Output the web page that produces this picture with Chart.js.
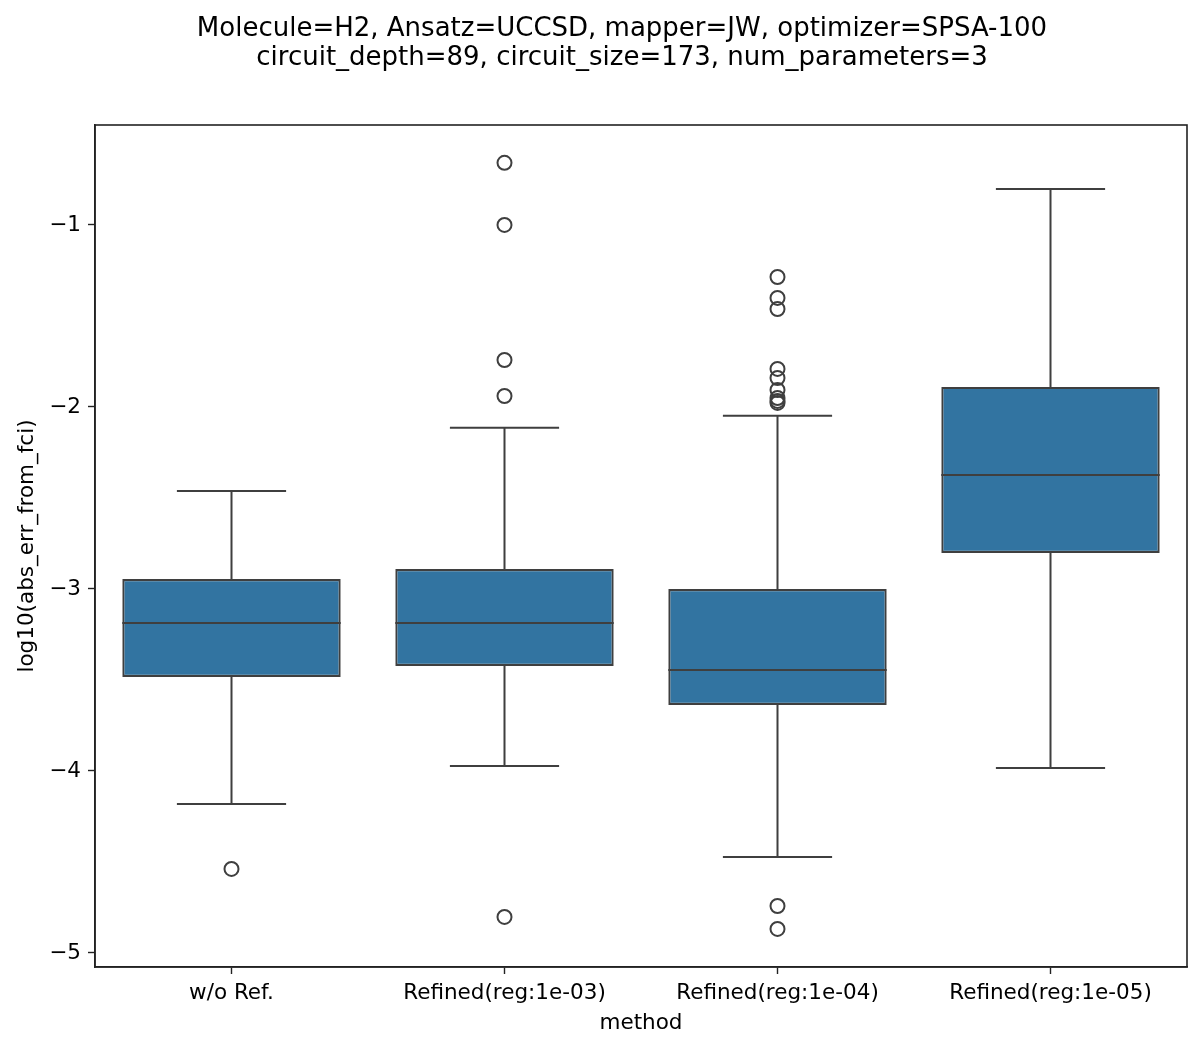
<!DOCTYPE html>
<html>
<head>
<meta charset="utf-8">
<script src="https://cdn.jsdelivr.net/npm/chart.js@4/dist/chart.umd.min.js"></script>
<style>
  html, body { margin: 0; padding: 0; background: #fff; }
  #wrap { width: 1200px; height: 1051px; }
</style>
</head>
<body>
<div id="wrap"><canvas id="chart" width="1200" height="1051"></canvas></div>
<script>
'use strict';

var titleLines = [
  'Molecule=H2, Ansatz=UCCSD, mapper=JW, optimizer=SPSA-100',
  'circuit_depth=89, circuit_size=173, num_parameters=3'
];
var methods = ['w/o Ref.', 'Refined(reg:1e-03)', 'Refined(reg:1e-04)', 'Refined(reg:1e-05)'];

// box statistics per method (log10 of abs error)
var whiskerLow = [-4.181, -3.973, -4.473, -3.984];
var q1 = [-3.484, -3.423, -3.637, -2.802];
var median = [-3.187, -3.187, -3.445, -2.374];
var q3 = [-2.945, -2.890, -3.000, -1.890];
var whiskerHigh = [-2.462, -2.115, -2.049, -0.802];

var outliers = [
  [-4.538],
  [-0.659, -1.0, -1.742, -1.940, -4.802],
  [-1.286, -1.401, -1.462, -1.791, -1.841, -1.907, -1.951, -1.967, -1.978, -4.742, -4.868],
  []
];

var yTicks = [-5, -4, -3, -2, -1];

var boxColor = '#3274a1';
var lineColor = '#3f3f3f';
var font = 'DejaVu Sans';

var outlierPoints = [];
outliers.forEach(function(list, i) {
  list.forEach(function(v) {
    outlierPoints.push({ x: methods[i], y: v });
  });
});

var boxPlugin = {
  id: 'boxParts',
  afterDatasetsDraw: function(chart) {
    var ctx = chart.ctx;
    var x = chart.scales.x;
    var y = chart.scales.y;
    var boxW = (x.getPixelForValue(1) - x.getPixelForValue(0)) * 0.8;
    ctx.save();
    ctx.strokeStyle = lineColor;
    ctx.lineWidth = 2;
    ctx.lineCap = 'butt';
    for (var i = 0; i < methods.length; i++) {
      var cx = x.getPixelForValue(i);
      ctx.beginPath();
      ctx.moveTo(cx, y.getPixelForValue(q3[i]));
      ctx.lineTo(cx, y.getPixelForValue(whiskerHigh[i]));
      ctx.moveTo(cx, y.getPixelForValue(q1[i]));
      ctx.lineTo(cx, y.getPixelForValue(whiskerLow[i]));
      ctx.moveTo(cx - boxW / 4, y.getPixelForValue(whiskerHigh[i]));
      ctx.lineTo(cx + boxW / 4, y.getPixelForValue(whiskerHigh[i]));
      ctx.moveTo(cx - boxW / 4, y.getPixelForValue(whiskerLow[i]));
      ctx.lineTo(cx + boxW / 4, y.getPixelForValue(whiskerLow[i]));
      ctx.moveTo(cx - boxW / 2, y.getPixelForValue(median[i]));
      ctx.lineTo(cx + boxW / 2, y.getPixelForValue(median[i]));
      ctx.stroke();
    }
    // spines
    var a = chart.chartArea;
    ctx.strokeStyle = '#222';
    ctx.lineWidth = 1.6;
    ctx.strokeRect(a.left, a.top, a.right - a.left, a.bottom - a.top);
    // suptitle
    ctx.fillStyle = '#000';
    ctx.font = '26px "' + font + '"';
    ctx.textAlign = 'center';
    ctx.textBaseline = 'alphabetic';
    ctx.fillText(titleLines[0], 622, 36);
    ctx.fillText(titleLines[1], 622, 65);
    ctx.restore();
  }
};

var ctx = document.getElementById('chart').getContext('2d');
var chart = new Chart(ctx, {
  type: 'bar',
  data: {
    labels: methods,
    datasets: [
      {
        type: 'bar',
        data: methods.map(function(m, i) { return [q1[i], q3[i]]; }),
        backgroundColor: boxColor,
        borderColor: lineColor,
        borderWidth: 2.2,
        borderSkipped: false,
        barPercentage: 0.8,
        categoryPercentage: 1.0
      },
      {
        type: 'scatter',
        data: outlierPoints,
        pointStyle: 'circle',
        pointRadius: 7,
        pointBackgroundColor: 'rgba(0,0,0,0)',
        pointBorderColor: lineColor,
        pointBorderWidth: 2
      }
    ]
  },
  options: {
    responsive: false,
    animation: false,
    layout: { padding: { top: 125, left: 0, right: 13, bottom: 0 } },
    plugins: {
      legend: { display: false },
      tooltip: { enabled: false }
    },
    scales: {
      x: {
        type: 'category',
        offset: true,
        grid: { display: true, drawOnChartArea: false, offset: false, tickLength: 7, color: '#222', tickWidth: 1.4 },
        border: { display: true, color: '#222', width: 1.6 },
        ticks: { color: '#000', padding: 7, font: { family: font, size: 21.5 }, maxRotation: 0 },
        title: { display: true, text: 'method', color: '#000', font: { family: font, size: 21.5 }, padding: { top: 0, bottom: 15 } },
        afterFit: function(scale) { scale.height = 84; }
      },
      y: {
        type: 'linear',
        min: -5.077,
        max: -0.451,
        grid: { display: true, drawOnChartArea: false, tickLength: 7, color: '#222', tickWidth: 1.4 },
        border: { display: true, color: '#222', width: 1.6 },
        afterBuildTicks: function(scale) {
          scale.ticks = yTicks.map(function(v) { return { value: v }; });
        },
        ticks: {
          color: '#000',
          padding: 7,
          font: { family: font, size: 21.5 },
          callback: function(v) { return '\u2212' + Math.abs(v); }
        },
        title: { display: true, text: 'log10(abs_err_from_fci)', color: '#000', font: { family: font, size: 21.5 }, padding: { top: 15, bottom: 0 } },
        afterFit: function(scale) { scale.width = 95; }
      }
    }
  },
  plugins: [boxPlugin]
});
</script>
</body>
</html>
